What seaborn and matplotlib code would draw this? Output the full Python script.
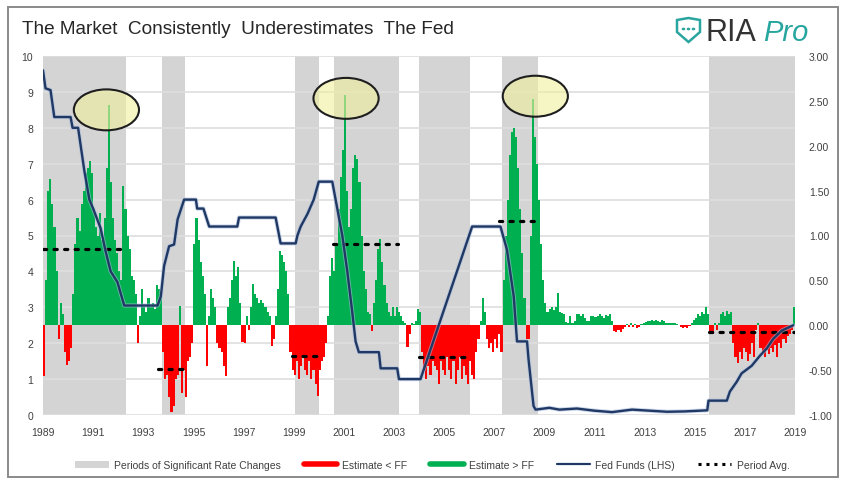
import numpy as np
import pandas as pd
import matplotlib
matplotlib.use("Agg")
import matplotlib.pyplot as plt
import matplotlib.patheffects as pe
import seaborn as sns
from matplotlib.patches import Ellipse, Rectangle, Patch, Polygon, Circle
from matplotlib.lines import Line2D

# ---------------- data ----------------
start_year = 1989
# monthly spread (market estimate minus fed funds), right axis
spread_monthly = [
    -0.56, 0.5, 1.5, 1.63, 1.35, 1.1, 0.6, -0.15, 0.25, 0.12, -0.3, -0.44,   # 1989
    -0.4, -0.25, 0.35, 0.9, 1.2, 1.05, 1.35, 1.5, 1.7, 1.75, 1.83, 1.7,       # 1990
    1.3, 1.1, 1.0, 1.25, 0.95, 1.2, 1.75, 2.45, 1.6, 1.2, 0.95, 0.8,          # 1991
    0.6, 0.5, 1.55, 1.3, 1.0, 0.85, 0.55, 0.5, 0.35, -0.2, 0.1, 0.4,          # 1992
    0.2, 0.15, 0.3, 0.2, 0.25, 0.18, 0.45, 0.4, 0.3, -0.3, -0.6, -0.55,       # 1993
    -0.8, -0.97, -0.9, -0.6, -0.55, 0.22, -0.75, -0.5, -0.8, -0.4, -0.35, -0.2,  # 1994
    0.9, 1.2, 0.95, 0.7, 0.55, 0.35, -0.45, 0.1, 0.4, 0.3, 0.2, -0.2,         # 1995
    -0.25, -0.3, -0.45, -0.57, 0.2, 0.3, 0.5, 0.72, 0.55, 0.65, 0.25, -0.19,  # 1996
    -0.2, 0.1, -0.05, 0.2, 0.46, 0.35, 0.3, 0.25, 0.28, 0.25, 0.2, 0.15,      # 1997
    0.1, -0.23, -0.15, 0.1, 0.4, 0.83, 0.78, 0.7, 0.6, 0.35, -0.3, -0.5,      # 1998
    -0.55, -0.4, -0.6, -0.45, -0.35, -0.5, -0.55, -0.4, -0.6, -0.5, -0.65, -0.79,  # 1999
    -0.5, -0.4, -0.35, -0.2, 0.1, 0.55, 0.75, 0.6, 0.9, 1.3, 1.65, 1.95,      # 2000
    2.57, 1.5, 1.1, 1.3, 1.75, 1.9, 1.85, 1.6, 1.0, 0.6, 0.4, 0.15,           # 2001
    0.12, -0.06, 0.25, 0.5, 0.85, 0.96, 0.7, 0.45, 0.25, 0.15, 0.1, 0.2,      # 2002
    0.1, 0.2, 0.15, 0.1, 0.05, 0.03, -0.24, -0.1, 0.03, 0.01, 0.05, 0.18,     # 2003
    0.15, -0.3, -0.5, -0.6, -0.45, -0.55, -0.4, -0.45, -0.5, -0.65, -0.4, -0.5,    # 2004
    -0.55, -0.35, -0.5, -0.6, -0.4, -0.65, -0.5, -0.35, -0.6, -0.45, -0.55, -0.65,  # 2005
    -0.4, -0.55, -0.6, -0.3, -0.15, 0.05, 0.3, 0.15, -0.15, -0.25, -0.2, -0.3,     # 2006
    -0.15, -0.25, -0.1, -0.3, 0.5, 1.0, 1.4, 1.9, 2.15, 2.2, 2.1, 1.75,       # 2007
    1.3, 0.8, 0.3, -0.15, -0.15, 1.0, 2.52, 2.1, 1.8, 1.4, 0.9, 0.5,          # 2008
    0.25, 0.15, 0.18, 0.2, 0.17, 0.2, 0.36, 0.15, 0.14, 0.12, 0.04, 0.03,     # 2009
    0.1, 0.02, 0.05, 0.12, 0.13, 0.1, 0.12, 0.08, 0.05, 0.05, 0.1, 0.1,       # 2010
    0.09, 0.1, 0.12, 0.1, 0.08, 0.11, 0.1, 0.12, 0.05, -0.06, -0.07, -0.05,   # 2011
    -0.07, -0.04, -0.02, 0.01, -0.02, 0.02, -0.02, 0.01, -0.03, -0.02, 0.01, 0.03,  # 2012
    0.04, 0.05, 0.05, 0.06, 0.05, 0.06, 0.05, 0.04, 0.06, 0.05, 0.03, 0.02,   # 2013
    0.03, 0.02, 0.03, 0.01, 0.0, -0.02, -0.03, -0.02, -0.03, -0.01, 0.02, 0.06,    # 2014
    0.08, 0.12, 0.1, 0.15, 0.12, 0.2, 0.12, -0.08, -0.1, 0.02, -0.05, 0.03,   # 2015
    0.12, 0.15, 0.1, 0.16, 0.13, 0.15, -0.2, -0.35, -0.42, -0.3, -0.38, -0.25,     # 2016
    -0.3, -0.4, -0.32, -0.2, -0.35, -0.05, 0.02, -0.25, -0.3, -0.35, -0.28, -0.32,  # 2017
    -0.25, -0.3, -0.22, -0.35, -0.2, -0.25, -0.15, -0.2, -0.12, -0.1, -0.05, 0.2,   # 2018
]

# fed funds rate (left axis)
ff_year = [1989.0, 1989.1, 1989.3, 1989.45, 1990.1, 1990.18, 1990.4, 1990.65, 1990.85,
           1991.0, 1991.3, 1991.5, 1991.7, 1991.97, 1992.24, 1993.57, 1993.7, 1993.83,
           1994.03, 1994.23, 1994.37, 1994.63, 1995.1, 1995.15, 1995.4, 1995.63, 1996.75,
           1996.82, 1998.28, 1998.48, 1999.08, 1999.15, 1999.28, 1999.55, 1999.8, 2000.0,
           2000.54, 2000.74, 2000.94, 2001.14, 2001.34, 2001.47, 2001.6, 2002.4, 2002.47,
           2003.13, 2003.2, 2004.06, 2006.12, 2007.25, 2007.51, 2007.78, 2007.91, 2008.31,
           2008.37, 2008.57, 2008.65, 2009.2, 2009.6, 2010.3, 2011.0, 2011.7, 2012.5,
           2013.2, 2013.9, 2014.6, 2015.5, 2015.55, 2016.28, 2016.4, 2016.67, 2016.87,
           2017.27, 2017.6, 2017.87, 2018.13, 2018.47, 2018.93]
ff_rate = [9.6, 9.1, 9.05, 8.3, 8.3, 8.0, 8.0, 6.8, 6.0,
           5.75, 5.2, 4.55, 4.0, 3.7, 3.05, 3.05, 3.3, 4.15,
           4.7, 4.75, 5.45, 6.0, 6.0, 5.75, 5.75, 5.25, 5.25,
           5.5, 5.5, 4.78, 4.78, 5.0, 5.25, 5.6, 6.0, 6.5,
           6.5, 5.75, 5.0, 4.0, 2.85, 2.05, 1.75, 1.75, 1.3,
           1.3, 1.0, 1.0, 5.25, 5.25, 4.6, 3.3, 2.05, 2.05,
           1.55, 0.25, 0.15, 0.2, 0.15, 0.18, 0.12, 0.08, 0.15,
           0.12, 0.09, 0.1, 0.13, 0.4, 0.4, 0.65, 0.92, 1.16,
           1.37, 1.65, 1.85, 2.12, 2.35, 2.5]

# periods of significant rate changes
period_start = [1989.0, 1993.74, 1999.04, 2000.6, 2004.0, 2007.3, 2015.57]
period_end = [1992.3, 1994.66, 2000.0, 2003.2, 2006.05, 2008.76, 2019.0]
# period averages (right axis)
avg_start = [1989.0, 1993.6, 1998.95, 2000.55, 2004.0, 2007.2, 2015.55]
avg_end = [1992.1, 1994.6, 2000.05, 2003.15, 2006.0, 2008.7, 2019.0]
avg_value = [0.85, -0.49, -0.34, 0.9, -0.35, 1.16, -0.08]

# highlighted peaks (left-axis units)
hl_x = [1991.53, 2001.09, 2008.64]
hl_y = [8.5, 8.82, 8.88]

x_ticks = list(range(1989, 2020, 2))
left_ticks = list(range(0, 11))
right_ticks = [-1.0, -0.5, 0.0, 0.5, 1.0, 1.5, 2.0, 2.5, 3.0]

# ---------------- style ----------------
sns.set_theme(style="white")
plt.rcParams['font.family'] = ['Liberation Sans', 'DejaVu Sans']

W, H = 848, 485
fig = plt.figure(figsize=(W / 100, H / 100), dpi=100)
fig.patch.set_facecolor("white")

L, R, T, B = 43, 795, 57, 416
pos = [L / W, 1 - B / H, (R - L) / W, (B - T) / H]
axA = fig.add_axes(pos)               # spans + grid, left scale
axB = fig.add_axes(pos, sharex=axA)   # bars, right scale
axC = fig.add_axes(pos, sharex=axA)   # fed funds line, left scale
axA.set_zorder(1); axB.set_zorder(2); axC.set_zorder(3)
for a in (axB, axC):
    a.patch.set_visible(False)
for a in (axA, axB, axC):
    for s in a.spines.values():
        s.set_visible(False)

GRAY = "#d4d4d4"
GREEN = "#00b050"
RED = "#ff0000"
NAVY = "#1f3864"
TXT = "#404040"

# spans
for s, e in zip(period_start, period_end):
    axA.axvspan(s, e, color=GRAY, lw=0, zorder=1)
axA.set_xlim(1989, 2019)
axA.set_ylim(0, 10)
axA.set_yticks(left_ticks)
axA.set_yticklabels([str(t) for t in left_ticks])
axA.set_axisbelow(False)
axA.grid(axis="y", color="#dedede", lw=1.2, zorder=2)
axA.grid(axis="x", visible=False)
axA.set_xticks(x_ticks)
axA.set_xticklabels([str(t) for t in x_ticks])
axA.tick_params(axis="both", length=0, labelsize=7.5, labelcolor=TXT)
axA.tick_params(axis="y", pad=7)
axA.tick_params(axis="x", pad=9)

# bars
df = pd.DataFrame({"x": start_year + np.arange(len(spread_monthly)) / 12.0,
                   "v": spread_monthly})
df["c"] = np.where(df["v"] >= 0, GREEN, RED)
axB.bar(df["x"], df["v"], width=1 / 12.0, align="edge", color=df["c"], lw=0, zorder=2)
for s, e, v in zip(avg_start, avg_end, avg_value):
    axB.plot([s, e], [v, v], color="black", lw=2.3, ls=(0, (1, 2.3)),
             dash_capstyle="round", zorder=4)
axB.set_ylim(-1, 3)
axB.yaxis.tick_right()
axB.set_yticks(right_ticks)
axB.set_yticklabels([f"{t:.2f}" for t in right_ticks])
axB.tick_params(axis="y", length=0, labelsize=7.5, labelcolor=TXT, pad=10)
axB.tick_params(axis="x", bottom=False, labelbottom=False)
axB.grid(False)

# fed funds line
ffdf = pd.DataFrame({"year": ff_year, "rate": ff_rate})
sns.lineplot(data=ffdf, x="year", y="rate", ax=axC, sort=False, estimator=None,
             color=NAVY, lw=1.7, zorder=5,
             path_effects=[pe.Stroke(linewidth=3.0, foreground="#a9bcdc", alpha=0.6), pe.Normal()])
axC.set_ylim(0, 10)
axC.set_xlim(1989, 2019)
axC.set_xlabel(""); axC.set_ylabel("")
axC.tick_params(left=False, labelleft=False, bottom=False, labelbottom=False)
axC.grid(False)
for cx, cy in zip(hl_x, hl_y):
    axC.add_patch(Ellipse((cx, cy), 2.6, 1.14, facecolor=(0.94, 0.94, 0.62, 0.6),
                          edgecolor="#1e1e1e", lw=1.5, zorder=6))

axA.set_xlim(1989, 2019)

# title
fig.text(22 / W, 1 - 30 / H, "The Market  Consistently  Underestimates  The Fed",
         fontsize=13.7, color="#262626", va="center", ha="left")

# logo
def fp(px, py):
    return (px / W, 1 - py / H)
shield = Polygon([fp(677, 21), fp(688.5, 19), fp(700, 21), fp(700, 33), fp(688.5, 43), fp(677, 33)],
                 closed=True, transform=fig.transFigure, fill=False,
                 edgecolor="#2aa59f", lw=1.8)
fig.add_artist(shield)
for dx in (683.5, 688.5, 693.5):
    fig.add_artist(Circle(fp(dx, 30), 1.1 / W, transform=fig.transFigure,
                          color="#2aa59f"))
t1 = fig.text(706 / W, 1 - 33 / H, "RIA", fontsize=22, color="#333333",
              va="center", ha="left")
fig.canvas.draw()
bb = t1.get_window_extent()
fig.text((bb.x1 + 6) / W, 1 - 33 / H, "Pro", fontsize=21, color="#27a59f",
         va="center", ha="left", style="italic")

# legend
handles = [Patch(facecolor=GRAY, edgecolor="none"),
           Line2D([], [], color=RED, lw=4),
           Line2D([], [], color=GREEN, lw=4),
           Line2D([], [], color=NAVY, lw=1.6),
           Line2D([], [], color="black", lw=2.2, ls=(0, (1, 1.6)))]
labels = ["Periods of Significant Rate Changes", "Estimate < FF", "Estimate > FF",
          "Fed Funds (LHS)", "Period Avg."]
fig.legend(handles, labels, loc="center", bbox_to_anchor=(0.51, 1 - 466 / H), ncol=5,
           frameon=False, fontsize=7.5, handlelength=3.2, columnspacing=2.2,
           handletextpad=0.5, labelcolor=TXT)

# border
fig.add_artist(Rectangle((8 / W, 7 / H), (838 - 8) / W, (477 - 7) / H,
                         transform=fig.transFigure, fill=False,
                         edgecolor="#8a8a8a", lw=1.4))

fig.savefig("out.png", dpi=100, facecolor="white")
